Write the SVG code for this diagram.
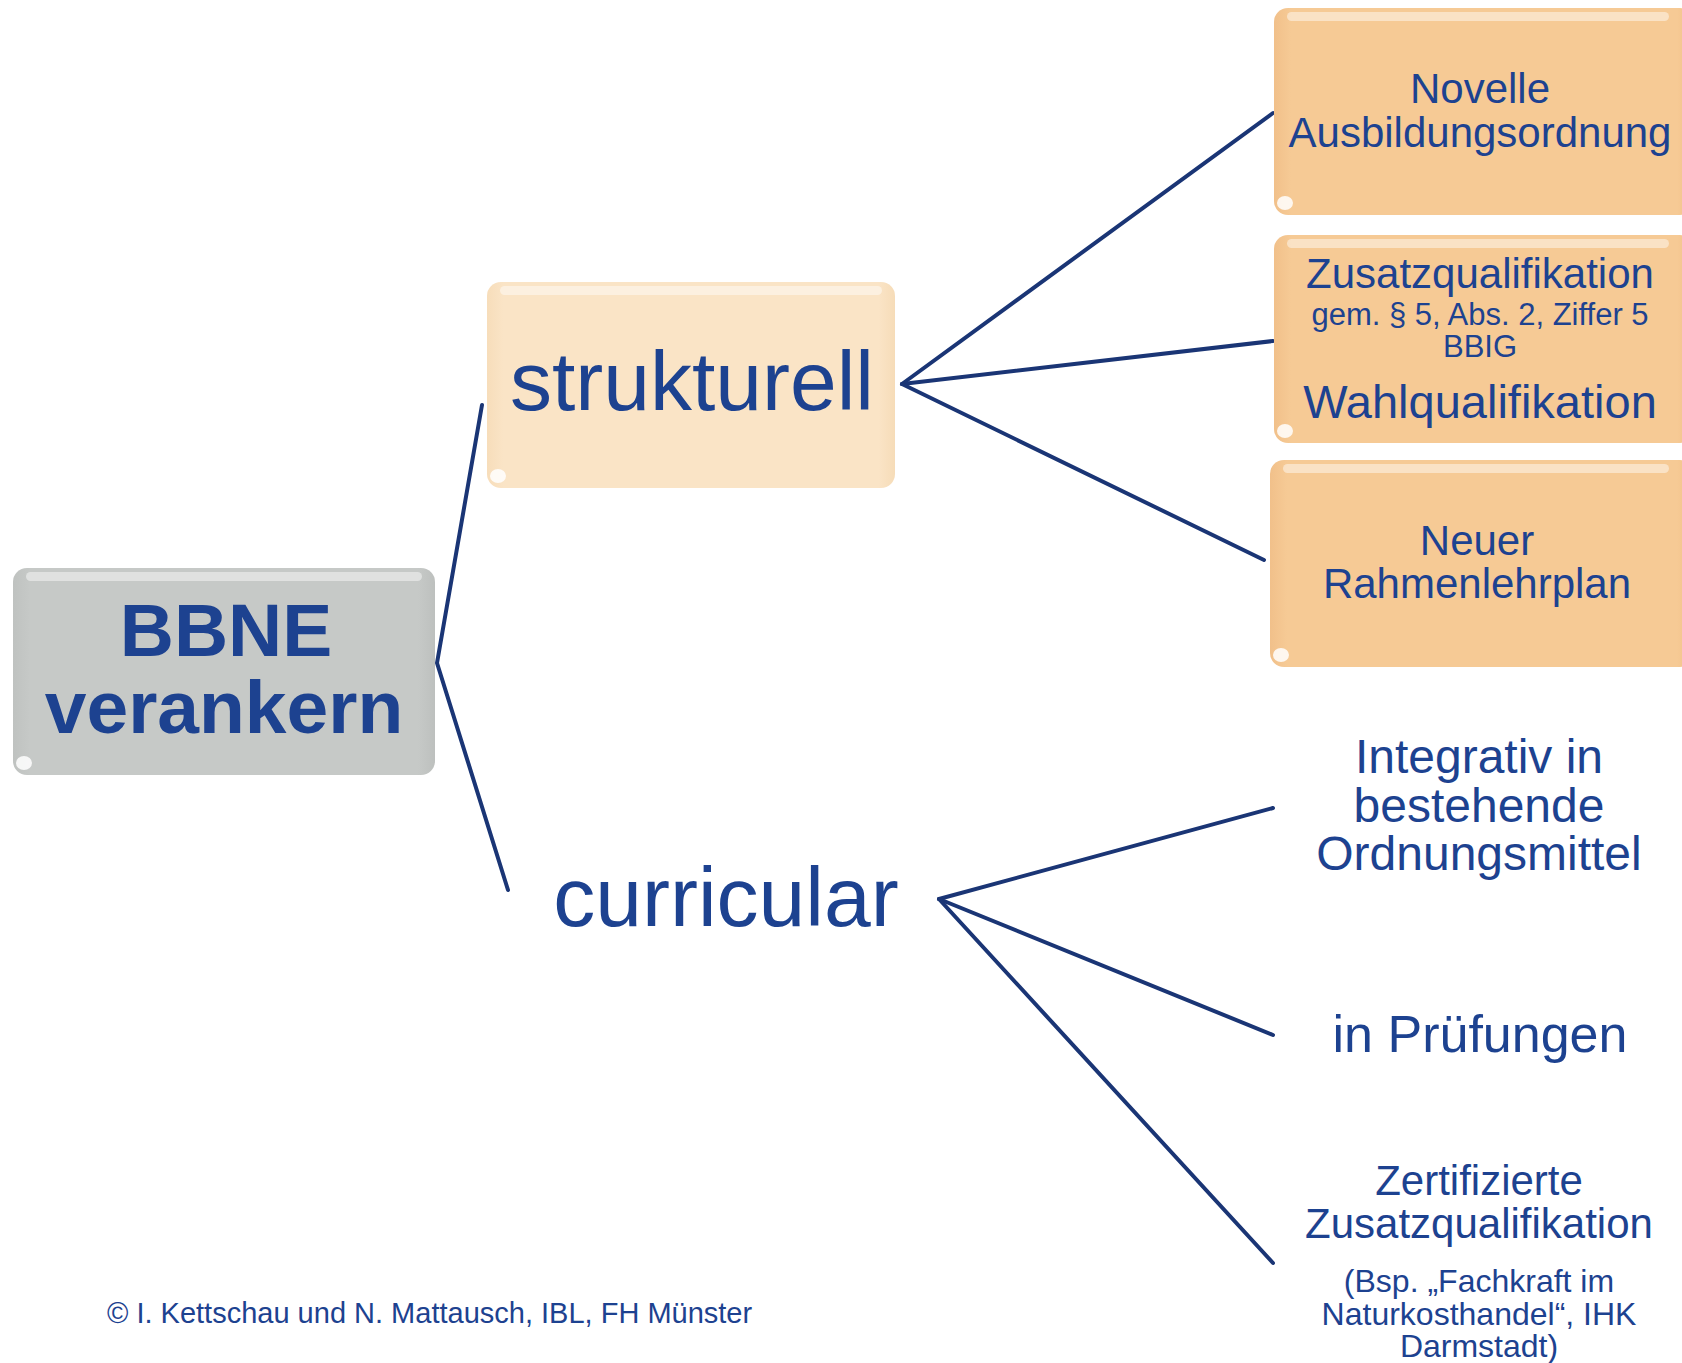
<svg xmlns="http://www.w3.org/2000/svg" width="1682" height="1363" viewBox="0 0 1682 1363">
<style>
text{font-family:"Liberation Sans",Arial,sans-serif;fill:#1D4290;text-anchor:middle}
.conn line,.conn polyline{stroke:#1A3575;stroke-width:4;fill:none;stroke-linecap:round;stroke-linejoin:round}
.hl{fill:#fff;opacity:0.45}
.dot{fill:#fff;opacity:0.85}
</style>
<defs>
<linearGradient id="gOr" x1="0" y1="0" x2="1" y2="0">
<stop offset="0" stop-color="#F1C08A"/><stop offset="0.04" stop-color="#F6CA95"/><stop offset="0.96" stop-color="#F6CA95"/><stop offset="1" stop-color="#F0BE86"/>
</linearGradient>
<linearGradient id="gLt" x1="0" y1="0" x2="1" y2="0">
<stop offset="0" stop-color="#F7DDBA"/><stop offset="0.04" stop-color="#FAE4C6"/><stop offset="0.96" stop-color="#FAE4C6"/><stop offset="1" stop-color="#F6DCB8"/>
</linearGradient>
<linearGradient id="gGr" x1="0" y1="0" x2="1" y2="0">
<stop offset="0" stop-color="#BFC2C0"/><stop offset="0.04" stop-color="#C6C9C7"/><stop offset="0.96" stop-color="#C6C9C7"/><stop offset="1" stop-color="#BDC0BE"/>
</linearGradient>
</defs>
<rect width="1682" height="1363" fill="#fff"/>
<g class="conn" id="connectors">
<polyline points="482,405 437,663 508,890"/>
<line x1="902" y1="384" x2="1273" y2="113"/>
<line x1="902" y1="384" x2="1273" y2="341"/>
<line x1="902" y1="384" x2="1264" y2="560"/>
<line x1="939" y1="899" x2="1273" y2="808"/>
<line x1="939" y1="899" x2="1273" y2="1035"/>
<line x1="939" y1="899" x2="1273" y2="1263"/>
</g>
<g id="bbne">
<rect x="13" y="568" width="422" height="207" rx="14" fill="url(#gGr)"/>
<rect x="26" y="572" width="396" height="9" rx="4.5" class="hl"/>
<ellipse cx="24" cy="763" rx="8" ry="7" class="dot"/>
<text x="226" y="656" font-size="75" font-weight="bold">BBNE</text>
<text x="224" y="733" font-size="75" font-weight="bold">verankern</text>
</g>
<g id="strukturell">
<rect x="487" y="282" width="408" height="206" rx="14" fill="url(#gLt)"/>
<rect x="500" y="286" width="382" height="9" rx="4.5" class="hl"/>
<ellipse cx="498" cy="476" rx="8" ry="7" class="dot"/>
<text x="692" y="410" font-size="84">strukturell</text>
</g>
<g id="curricular">
<text x="726" y="926" font-size="84">curricular</text>
</g>
<g id="novelle">
<rect x="1274" y="8" width="420" height="207" rx="14" fill="url(#gOr)"/>
<rect x="1287" y="12" width="382" height="9" rx="4.5" class="hl"/>
<ellipse cx="1285" cy="203" rx="8" ry="7" class="dot"/>
<text x="1480" y="103" font-size="42">Novelle</text>
<text x="1480" y="147" font-size="42">Ausbildungsordnung</text>
</g>
<g id="zusatz">
<rect x="1274" y="235" width="420" height="208" rx="14" fill="url(#gOr)"/>
<rect x="1287" y="239" width="382" height="9" rx="4.5" class="hl"/>
<ellipse cx="1285" cy="431" rx="8" ry="7" class="dot"/>
<text x="1480" y="288" font-size="42">Zusatzqualifikation</text>
<text x="1480" y="325" font-size="31">gem. § 5, Abs. 2, Ziffer 5</text>
<text x="1480" y="357" font-size="31">BBIG</text>
<text x="1480" y="418" font-size="47">Wahlqualifikation</text>
</g>
<g id="neuer">
<rect x="1270" y="460" width="424" height="207" rx="14" fill="url(#gOr)"/>
<rect x="1283" y="464" width="386" height="9" rx="4.5" class="hl"/>
<ellipse cx="1281" cy="655" rx="8" ry="7" class="dot"/>
<text x="1477" y="555" font-size="42">Neuer</text>
<text x="1477" y="598" font-size="42">Rahmenlehrplan</text>
</g>
<g id="integrativ">
<text x="1479" y="773" font-size="48">Integrativ in</text>
<text x="1479" y="822" font-size="48">bestehende</text>
<text x="1479" y="870" font-size="48">Ordnungsmittel</text>
</g>
<g id="pruefungen">
<text x="1480" y="1052" font-size="52">in Prüfungen</text>
</g>
<g id="zertifizierte">
<text x="1479" y="1195" font-size="42">Zertifizierte</text>
<text x="1479" y="1238" font-size="42">Zusatzqualifikation</text>
<text x="1479" y="1292" font-size="32">(Bsp. „Fachkraft im</text>
<text x="1479" y="1325" font-size="32">Naturkosthandel“, IHK</text>
<text x="1479" y="1357" font-size="32">Darmstadt)</text>
</g>
<text x="107" y="1323" font-size="29" style="text-anchor:start">© I. Kettschau und N. Mattausch, IBL, FH Münster</text>
</svg>
